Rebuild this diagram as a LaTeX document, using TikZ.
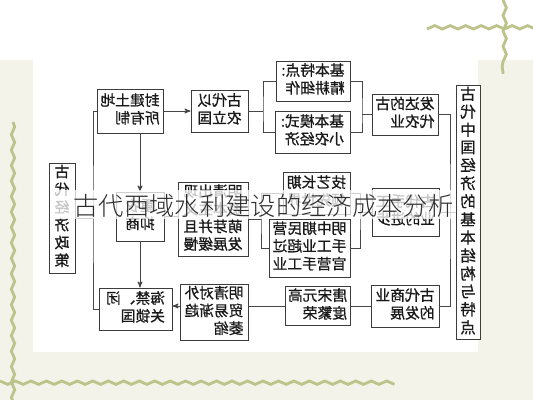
\documentclass[tikz,border=0pt]{standalone}
\usepackage{fontspec}
\newfontfamily\cjk[FakeBold=0.8]{Noto Sans CJK SC}
\IfFontExistsTF{Noto Sans CJK SC Light}
	{\newfontfamily\cjktitle{Noto Sans CJK SC Light}}
	{\newfontfamily\cjktitle{Noto Sans CJK SC}}
\usepackage{tikz}
\usetikzlibrary{arrows}
\usetikzlibrary{decorations.pathmorphing}

% mirrored box text
\newcommand{\flip}[1]{\reflectbox{\begin{tabular}{@{}l@{}}#1\end{tabular}}}

\definecolor{boxline}{RGB}{60,60,60}
\definecolor{boxtext}{RGB}{25,25,25}
\definecolor{linkcol}{RGB}{70,70,70}
\definecolor{decocol}{RGB}{190,195,140}
\definecolor{tint}{RGB}{243,243,233}

\begin{document}
\begin{tikzpicture}[x=0.025cm,y=-0.025cm,>=stealth',
	box node/.style={draw=boxline,line width=0.7pt,fill=white,inner xsep=2pt,inner ysep=1pt,
		text=boxtext,font=\cjk\fontsize{10.5}{12.6}\selectfont},
	wh/.style 2 args={minimum width=#1*0.025cm,minimum height=#2*0.025cm},
	link/.style={draw=linkcol,line width=0.6pt}]
	
	\useasboundingbox (0,0) rectangle (533,400);
	
	% background and frame
	\fill[tint] (0,0) rectangle (533,400);
	\fill[white] (33,0) rectangle (478,352);
	\fill[white] (0,0) rectangle (533,60);
	\draw[decocol,line width=2pt,decorate,decoration={snake,segment length=11pt,amplitude=1.2pt}]
		(13,122) -- (13,400)
		(0,381) -- (397,381)
		(427,29) -- (533,29)
		(503,0) -- (503,74);
	
	% boxes
	\node[box node, wh={26}{110}] (zc) at (62,218) {\flip{古\\代\\经\\济\\政\\策}};
	\node[box node, wh={66}{44}] (fj) at (130,111) {\flip{封建土地\\所有制}};
	\node[box node, wh={57}{42}] (nl) at (219.5,111) {\flip{古代以\\农立国}};
	\node[box node, wh={74}{40}] (jd) at (313,81) {\flip{基本特点:\\精耕细作}};
	\node[box node, wh={75}{42}] (jm) at (312.5,132) {\flip{基本模式:\\小农经济}};
	\node[box node, wh={66}{41}] (ny) at (405,114.5) {\flip{发达的古\\代农业}};
	\node[box node, wh={24}{239},font=\cjk\fontsize{11}{12}\selectfont] (jg) at (468,212.5)
		{\flip{古\\代\\中\\国\\经\\济\\的\\基\\本\\结\\构\\与\\特\\点}};
	\node[box node, wh={48}{49}] (ys) at (140,216.5) {\flip{重农\\抑商}};
	\node[box node, wh={70}{71},font=\cjk\fontsize{10.5}{12.2}\selectfont] (mq) at (213,219.5)
		{\flip{明清出现\\资本主义\\萌芽并且\\发展缓慢}};
	\node[box node, wh={67}{42}] (jy) at (316.5,193) {\flip{技艺长期\\领先世界}};
	\node[box node, wh={81}{58}] (mz) at (309.5,248) {\flip{明中期民营\\手工业超过\\官营手工业}};
	\node[box node, wh={67}{48}] (sg) at (405.5,212) {\flip{古代手工\\业的进步}};
	\node[box node, wh={73}{42}] (hj) at (135.5,309) {\flip{海禁、闭\\关锁国}};
	\node[box node, wh={68}{55}] (mw) at (214,312.5) {\flip{明清对外\\贸易渐趋\\萎缩}};
	\node[box node, wh={65}{38}] (ts) at (317.5,306) {\flip{唐宋元高\\度繁荣}};
	\node[box node, wh={68}{42}] (sy) at (405,306) {\flip{古代商业\\的发展}};
	
	% junction points
	\coordinate (lb) at (93,218);
	\coordinate (b1) at (263,111);
	\coordinate (b2) at (362,114.5);
	\coordinate (b3) at (261,219.5);
	\coordinate (b4) at (360,212);
	\coordinate (rb) at (450,212.5);
	
	% connectors
	\draw[link] (zc) -- (lb);
	\draw[link] (fj.west) -| (lb) |- (hj.west);
	\draw[link,->] (fj) -- (nl);
	\draw[link,->] (fj.south -| ys.north) -- (ys.north);
	\draw[link,->] (ys.south) -- (ys.south |- hj.north);
	\draw[link] (ys) -- (ys -| mq.west);
	\draw[link] (nl) -- (b1);
	\draw[link] (jd.west) -| (b1) |- (jm.west);
	\draw[link] (jd.east) -| (b2) |- (jm.east);
	\draw[link] (b2) -- (ny);
	\draw[link] (mq) -- (b3);
	\draw[link] (jy.west) -| (b3) |- (mz.west);
	\draw[link] (jy.east) -| (b4) |- (mz.east);
	\draw[link] (b4) -- (sg);
	\draw[link] (ny.east) -| (rb) |- (sy.east);
	\draw[link] (sg.east) -- (sg.east -| rb);
	\draw[link] (rb) -- (jg);
	\draw[link] (sy) -- (ts);
	\draw[link] (ts.west) -- (ts.west -| mw.east);
	\draw[link,->] (mw.west |- ts.west) -- (hj.east |- ts.west);
	
	% title band
	\fill[white,opacity=0.75] (51,190) rectangle (456,219);
	\node[text={rgb,255:red,45;green,45;blue,45},font=\cjktitle\fontsize{18}{20}\selectfont] (title) at (263.5,206)
		{古代西域水利建设的经济成本分析};
	\end{tikzpicture}
\end{document}
